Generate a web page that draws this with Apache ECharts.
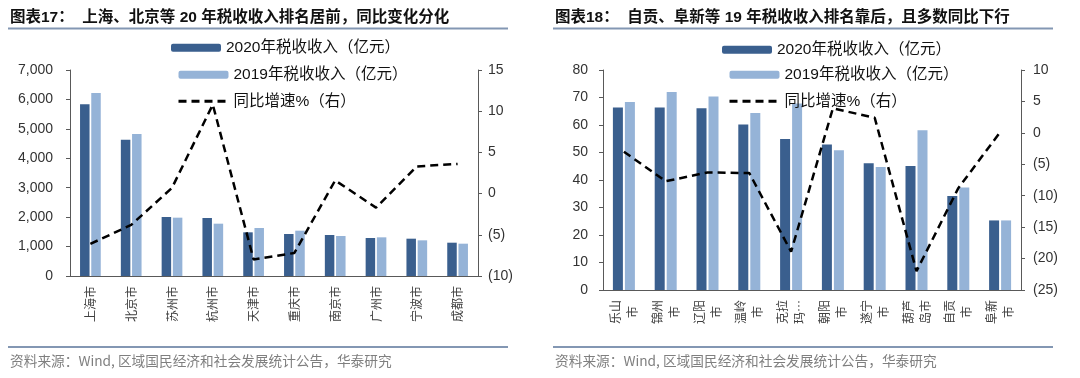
<!DOCTYPE html>
<html><head><meta charset="utf-8">
<script src="https://cdn.jsdelivr.net/npm/echarts@6/dist/echarts.min.js"></script>
<style>html,body{margin:0;padding:0;background:#fff}#c{width:1080px;height:378px}</style>
</head><body><div id="c"></div>
<script>
// ---- Chart 17 data ----
const citiesA = ['上海市','北京市','苏州市','杭州市','天津市','重庆市','南京市','广州市','宁波市','成都市'];
const tax2020A = [5840,4632,2005,1971,1484,1427,1393,1291,1268,1132];
const tax2019A = [6216,4825,1982,1778,1631,1540,1359,1314,1212,1098];
const yoyA = [-6.1,-3.8,0.7,10.8,-8.0,-7.2,1.6,-1.7,3.3,3.6];
// ---- Chart 18 data ----
const citiesB = ['乐山市','锦州市','辽阳市','温岭市','克拉玛依市','朝阳市','遂宁市','葫芦岛市','自贡市','阜新市'];
const labelsB = ['乐山\n市','锦州\n市','辽阳\n市','温岭\n市','克拉\n玛…','朝阳\n市','遂宁\n市','葫芦\n岛市','自贡\n市','阜新\n市'];
const tax2020B = [66.4,66.4,66.1,60.2,54.9,52.9,46.1,45.1,34.2,25.3];
const tax2019B = [68.4,72.0,70.4,64.4,67.8,50.8,44.7,58.1,37.3,25.3];
const yoyB = [-3.0,-7.7,-6.3,-6.4,-18.9,3.9,2.4,-22.0,-8.8,0.1];

const titleA = '图表17：  上海、北京等 20 年税收收入排名居前，同比变化分化';
const titleB = '图表18：  自贡、阜新等 19 年税收收入排名靠后，且多数同比下行';
const sourceText = '资料来源：Wind, 区域国民经济和社会发展统计公告，华泰研究';
const name2020 = '2020年税收收入（亿元）';
const name2019 = '2019年税收收入（亿元）';
const nameYoy = '同比增速%（右）';

const DARK = '#3A5F8E', LIGHT = '#95B3D7', RULE = '#8397B3';
const NUM_FONT = 'Liberation Sans, Arial, Noto Sans CJK SC, sans-serif';
const CJK_FONT = 'Noto Sans CJK SC, sans-serif';
const AXIS_COLOR = '#595959';

const chart = echarts.init(document.getElementById('c'), null, {renderer: 'canvas'});

function thousands(v){ return String(v).replace(/\B(?=(\d{3})+(?!\d))/g, ','); }
function paren(v){ return v < 0 ? '(' + (-v) + ')' : String(v); }

function valueAxis(grid, pos, min, max, interval, fmt, margin){
  return {
    type: 'value', gridIndex: grid, position: pos, min: min, max: max, interval: interval,
    axisLine: {show: true, lineStyle: {color: AXIS_COLOR, width: 1}},
    axisTick: {show: true, length: 4, lineStyle: {color: AXIS_COLOR}},
    splitLine: {show: false},
    axisLabel: {formatter: fmt, fontSize: 14, fontFamily: NUM_FONT, color: '#333', margin: margin}
  };
}

const hiddenSymbol = {color: 'rgba(0,0,0,0)', borderColor: 'rgba(0,0,0,0)', borderWidth: 0, opacity: 0};

function legendBox(left, top, data){
  return {
    left: left, top: top, orient: 'vertical', itemGap: 11, itemWidth: 50, itemHeight: 8,
    selectedMode: false,
    data: data.map(function(n){ return n === nameYoy ? {name: n, itemStyle: hiddenSymbol} : n; }),
    textStyle: {fontSize: 15.5, fontFamily: NUM_FONT, color: '#111'},
    lineStyle: {width: 3, type: [8, 5], color: '#000', opacity: 1}
  };
}

const option = {
  animation: false,
  backgroundColor: '#fff',
  grid: [
    {left: 70, top: 70, width: 408, height: 206},
    {left: 603, top: 70, width: 418, height: 220}
  ],
  legend: [
    legendBox(166, 35, [name2020]),
    legendBox(172, 62, [name2019, nameYoy]),
    legendBox(717, 37, [name2020]),
    legendBox(723, 62, [name2019, nameYoy])
  ],
  xAxis: [
    {
      type: 'category', gridIndex: 0, data: citiesA,
      axisLine: {lineStyle: {color: AXIS_COLOR}},
      axisTick: {length: 4, lineStyle: {color: AXIS_COLOR}},
      axisLabel: {rotate: 90, interval: 0, fontSize: 12, fontFamily: CJK_FONT, color: '#404040', margin: 10}
    },
    {
      type: 'category', gridIndex: 1, data: citiesB,
      axisLine: {lineStyle: {color: AXIS_COLOR}},
      axisTick: {length: 4, lineStyle: {color: AXIS_COLOR}},
      axisLabel: {rotate: 90, interval: 0, fontSize: 12, fontFamily: CJK_FONT, color: '#404040',
        margin: 22, align: 'center', lineHeight: 17,
        formatter: function(v, i){ return labelsB[i]; }}
    }
  ],
  yAxis: [
    valueAxis(0, 'left', 0, 7000, 1000, thousands, 17),
    valueAxis(0, 'right', -10, 15, 5, paren, 10),
    valueAxis(1, 'left', 0, 80, 10, null, 15),
    valueAxis(1, 'right', -25, 10, 5, paren, 12)
  ],
  series: [
    {name: name2020, type: 'bar', xAxisIndex: 0, yAxisIndex: 0, data: tax2020A, barWidth: 9.5, barGap: '18%', itemStyle: {color: DARK}},
    {name: name2019, type: 'bar', xAxisIndex: 0, yAxisIndex: 0, data: tax2019A, barWidth: 9.5, barGap: '18%', itemStyle: {color: LIGHT}},
    {name: nameYoy, type: 'line', xAxisIndex: 0, yAxisIndex: 1, data: yoyA, symbol: 'none', z: 5,
      lineStyle: {color: '#000', width: 2.5, type: [8, 5]}, itemStyle: {color: '#000'}},
    {name: name2020, type: 'bar', xAxisIndex: 1, yAxisIndex: 2, data: tax2020B, barWidth: 10, barGap: '20%', itemStyle: {color: DARK}},
    {name: name2019, type: 'bar', xAxisIndex: 1, yAxisIndex: 2, data: tax2019B, barWidth: 10, barGap: '20%', itemStyle: {color: LIGHT}},
    {name: nameYoy, type: 'line', xAxisIndex: 1, yAxisIndex: 3, data: yoyB, symbol: 'none', z: 5,
      lineStyle: {color: '#000', width: 2.5, type: [8, 5]}, itemStyle: {color: '#000'}}
  ],
  graphic: [
    {type: 'text', style: {x: 10, y: 18, text: titleA, verticalAlign: 'middle', font: 'bold 15.5px ' + NUM_FONT, fill: '#111'}},
    {type: 'text', style: {x: 555, y: 18, text: titleB, verticalAlign: 'middle', font: 'bold 15.5px ' + NUM_FONT, fill: '#111'}},
    {type: 'line', shape: {x1: 8, y1: 28.5, x2: 508, y2: 28.5}, style: {stroke: RULE, lineWidth: 2}},
    {type: 'line', shape: {x1: 553, y1: 28.5, x2: 1053, y2: 28.5}, style: {stroke: RULE, lineWidth: 2}},
    {type: 'line', shape: {x1: 8, y1: 347, x2: 508, y2: 347}, style: {stroke: RULE, lineWidth: 2}},
    {type: 'line', shape: {x1: 553, y1: 347, x2: 1053, y2: 347}, style: {stroke: RULE, lineWidth: 2}},
    {type: 'text', style: {x: 10, y: 361, text: sourceText, verticalAlign: 'middle', font: '13.7px ' + CJK_FONT, fill: '#7f7f7f'}},
    {type: 'text', style: {x: 555, y: 361, text: sourceText, verticalAlign: 'middle', font: '13.7px ' + CJK_FONT, fill: '#7f7f7f'}}
  ]
};
chart.setOption(option);
</script>
</body></html>
